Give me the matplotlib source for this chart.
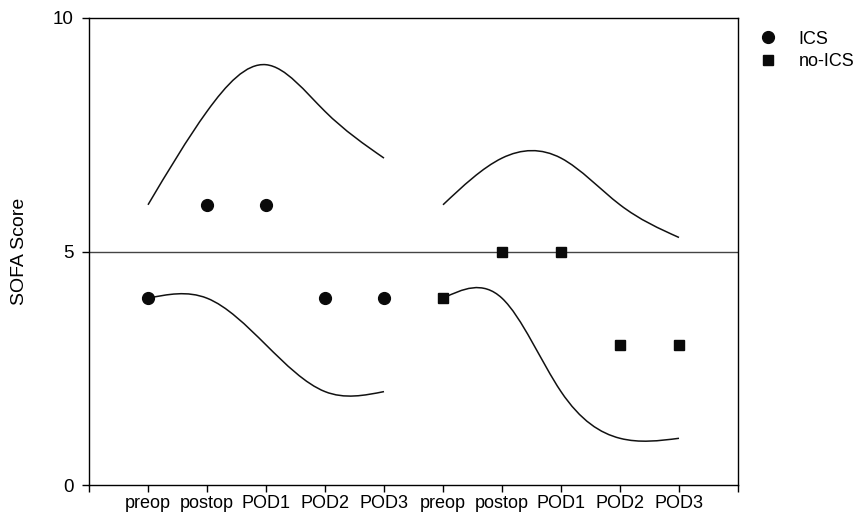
import numpy as np
import matplotlib
matplotlib.use("Agg")
import matplotlib.pyplot as plt
from matplotlib.path import Path
from matplotlib.patches import PathPatch

plt.rcParams['font.family'] = ['Liberation Sans', 'DejaVu Sans']

# Time points for the two groups
timepoints = ["preop", "postop", "POD1", "POD2", "POD3"]
ics_x = [1, 2, 3, 4, 5]
noics_x = [6, 7, 8, 9, 10]

# Median SOFA scores
ics_median = [4, 6, 6, 4, 4]
noics_median = [4, 5, 5, 3, 3]

# Upper and lower bounds (smoothed lines)
ics_upper = [6, 8, 9, 8, 7]
ics_lower = [4, 4, 3, 2, 2]
noics_upper = [6, 7, 7, 6, 5.3]
noics_lower = [4, 4, 2, 1, 1]

tick_labels = timepoints + timepoints


def spline_path(xs, ys):
    """Natural cubic spline through the points, expressed as cubic Bezier segments."""
    xs = np.asarray(xs, float)
    ys = np.asarray(ys, float)
    n = len(xs)
    h = np.diff(xs)
    # second derivatives (natural ends: M0 = Mn = 0)
    A = np.zeros((n, n))
    b = np.zeros(n)
    A[0, 0] = A[-1, -1] = 1.0
    for i in range(1, n - 1):
        A[i, i - 1] = h[i - 1]
        A[i, i] = 2 * (h[i - 1] + h[i])
        A[i, i + 1] = h[i]
        b[i] = 6 * ((ys[i + 1] - ys[i]) / h[i] - (ys[i] - ys[i - 1]) / h[i - 1])
    M = np.linalg.solve(A, b)
    verts = [(xs[0], ys[0])]
    codes = [Path.MOVETO]
    for i in range(n - 1):
        s = (ys[i + 1] - ys[i]) / h[i]
        d0 = s - h[i] * (2 * M[i] + M[i + 1]) / 6
        d1 = s + h[i] * (M[i] + 2 * M[i + 1]) / 6
        verts += [(xs[i] + h[i] / 3, ys[i] + d0 * h[i] / 3),
                  (xs[i + 1] - h[i] / 3, ys[i + 1] - d1 * h[i] / 3),
                  (xs[i + 1], ys[i + 1])]
        codes += [Path.CURVE4] * 3
    return Path(verts, codes)


fig = plt.figure(figsize=(8.68, 5.14), dpi=100)
ax = fig.add_axes([89 / 868, 1 - 485 / 514, (738 - 89) / 868, (485 - 18) / 514])

ax.axhline(5, color="#444444", lw=1.0, zorder=1)

for xs, ys in [(ics_x, ics_upper), (ics_x, ics_lower),
               (noics_x, noics_upper), (noics_x, noics_lower)]:
    ax.add_patch(PathPatch(spline_path(xs, ys), facecolor="none",
                           edgecolor="#111111", lw=1.1, zorder=2))

ax.plot(ics_x, ics_median, "o", color="#0a0a0a", ms=8.5, ls="none",
        label="ICS", zorder=3)
ax.plot(noics_x, noics_median, "s", color="#0a0a0a", ms=7.8, ls="none",
        label="no-ICS", zorder=3)

ax.set_xlim(0, 11)
ax.set_ylim(0, 10)
ax.set_xticks(range(0, 12))
ax.set_xticklabels([""] + tick_labels + [""])
ax.set_yticks([0, 5, 10])
ax.tick_params(axis="both", direction="out", length=5, width=1, labelsize=13,
               colors="black")
ax.tick_params(axis="x", pad=2)
ax.tick_params(axis="y", labelsize=13.5, pad=6)
for s in ax.spines.values():
    s.set_linewidth(1.0)
    s.set_color("black")

ax.set_ylabel("SOFA Score", fontsize=14, labelpad=18)

ax.legend(loc="upper left", bbox_to_anchor=(1.01, 1.0), frameon=False,
          fontsize=13, handletextpad=1.1, labelspacing=0.3,
          borderaxespad=0.3, handlelength=1.2)

fig.savefig("out.png", dpi=100)
